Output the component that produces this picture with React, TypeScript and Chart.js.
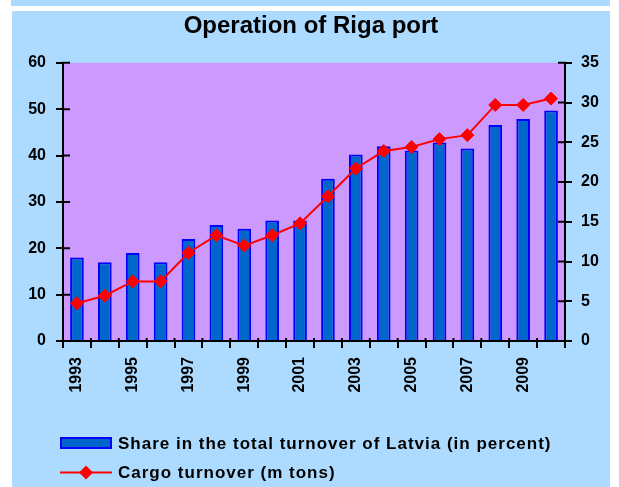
import React, { useEffect, useRef } from "react";
import { Chart, registerables } from "chart.js";

Chart.register(...registerables);

const titleText = "Operation of Riga port";
const years = ["1993", "1994", "1995", "1996", "1997", "1998", "1999", "2000", "2001", "2002", "2003", "2004", "2005", "2006", "2007", "2008", "2009", "2010"];
const shareLabel = "Share in the total turnover of Latvia (in percent)";
const shareOfLatvia = [18, 17, 19, 17, 22, 25, 24.2, 26, 26, 35, 40.2, 42, 41.1, 42.8, 41.5, 46.6, 47.9, 49.7];
const cargoLabel = "Cargo turnover (m tons)";
const cargoTurnover = [4.75, 5.7, 7.5, 7.5, 11.1, 13.3, 12.0, 13.3, 14.8, 18.2, 21.7, 23.9, 24.4, 25.4, 25.9, 29.7, 29.7, 30.5];
const leftAxis = { min: 0, max: 60, step: 10 };
const rightAxis = { min: 0, max: 35, step: 5 };

const PAGE_BG = "#ADDBFF";
const PLOT_BG = "#CC99FF";
const FONT = "Arial, 'Liberation Sans', sans-serif";

const plotBgPlugin = {
  id: "plotBg",
  beforeDraw(chart: any) {
    const { ctx, chartArea } = chart;
    ctx.save();
    ctx.fillStyle = PLOT_BG;
    ctx.fillRect(chartArea.left, chartArea.top, chartArea.right - chartArea.left, chartArea.bottom - chartArea.top);
    ctx.restore();
  },
};

const axesOverlayPlugin = {
  id: "axesOverlay",
  afterDatasetsDraw(chart: any) {
    const { ctx, chartArea } = chart;
    const { left, right, top, bottom } = chartArea;
    const y = chart.scales.y;
    const y1 = chart.scales.y1;
    ctx.save();
    ctx.strokeStyle = "#000";
    ctx.lineWidth = 2;
    ctx.beginPath();
    y.ticks.forEach((_: any, i: number) => {
      const py = y.getPixelForTick(i);
      ctx.moveTo(left, py);
      ctx.lineTo(left + 7, py);
    });
    y1.ticks.forEach((_: any, i: number) => {
      const py = y1.getPixelForTick(i);
      ctx.moveTo(right, py);
      ctx.lineTo(right - 7, py);
    });
    const n = years.length;
    const w = (right - left) / n;
    for (let i = 0; i <= n; i++) {
      const px = left + i * w;
      ctx.moveTo(px, bottom);
      ctx.lineTo(px, bottom - 3);
    }
    ctx.moveTo(left, top - 1);
    ctx.lineTo(left, bottom);
    ctx.lineTo(right, bottom);
    ctx.moveTo(right, top - 1);
    ctx.lineTo(right, bottom);
    ctx.stroke();
    ctx.restore();
  },
};

const legendPlugin = {
  id: "customLegend",
  afterDraw(chart: any) {
    const { ctx, chartArea } = chart;
    const ds = chart.data.datasets;
    const x0 = chartArea.left - 3;
    const row1 = chartArea.bottom + 102;
    const row2 = row1 + 29.5;
    const sw = 52;
    ctx.save();
    ctx.fillStyle = ds[0].backgroundColor;
    ctx.fillRect(x0, row1 - 6, sw, 12);
    ctx.strokeStyle = ds[0].borderColor;
    ctx.lineWidth = 2;
    ctx.strokeRect(x0 + 1, row1 - 5, sw - 2, 10);
    ctx.strokeStyle = ds[1].borderColor;
    ctx.lineWidth = 2;
    ctx.beginPath();
    ctx.moveTo(x0, row2);
    ctx.lineTo(x0 + sw, row2);
    ctx.stroke();
    const cx = x0 + sw / 2;
    const r = 7;
    ctx.fillStyle = ds[1].pointBackgroundColor;
    ctx.beginPath();
    ctx.moveTo(cx, row2 - r);
    ctx.lineTo(cx + r, row2);
    ctx.lineTo(cx, row2 + r);
    ctx.lineTo(cx - r, row2);
    ctx.closePath();
    ctx.fill();
    ctx.fillStyle = "#000";
    ctx.font = `bold 17px ${FONT}`;
    try {
      (ctx as any).letterSpacing = "1px";
    } catch (e) {}
    ctx.textBaseline = "middle";
    ctx.textAlign = "left";
    ctx.fillText(ds[0].label, x0 + sw + 6, row1 + 1);
    ctx.fillText(ds[1].label, x0 + sw + 6, row2 + 1);
    ctx.restore();
  },
};

export default function App() {
  const canvasRef = useRef<HTMLCanvasElement | null>(null);

  useEffect(() => {
    document.body.style.margin = "0";
    const canvas = canvasRef.current;
    if (!canvas) return;
    const tickFont = { family: FONT, size: 16, weight: "bold" as const };
    const chart = new Chart(canvas, {
      type: "bar",
      data: {
        labels: years,
        datasets: [
          {
            type: "bar",
            label: shareLabel,
            data: shareOfLatvia,
            backgroundColor: "#0066CC",
            borderColor: "#0000FF",
            borderWidth: 2,
            barPercentage: 0.49,
            categoryPercentage: 1,
            yAxisID: "y",
            order: 1,
          },
          {
            type: "line",
            label: cargoLabel,
            data: cargoTurnover,
            borderColor: "#FF0000",
            backgroundColor: "#FF0000",
            pointBackgroundColor: "#FF0000",
            pointBorderColor: "#FF0000",
            borderWidth: 2,
            pointStyle: "rectRot",
            pointRadius: 6.5,
            pointBorderWidth: 1,
            tension: 0,
            yAxisID: "y1",
            order: 0,
          } as any,
        ],
      },
      options: {
        responsive: false,
        animation: false,
        layout: { padding: { left: 0, right: 0, top: 0, bottom: 0 } },
        plugins: {
          legend: { display: false },
          tooltip: { enabled: false },
          title: {
            display: true,
            text: titleText,
            color: "#000",
            font: { family: FONT, size: 24, weight: "bold" },
            padding: { top: 1, bottom: 22 },
          },
        },
        scales: {
          x: {
            offset: true,
            grid: { display: true, drawOnChartArea: false, drawTicks: true, tickLength: 7, color: "#000", lineWidth: 2, offset: true },
            border: { display: true, color: "#000", width: 2 },
            ticks: {
              autoSkip: false,
              maxRotation: 90,
              minRotation: 90,
              padding: 9,
              color: "#000",
              font: tickFont,
              callback: (_v: any, i: number) => (i % 2 === 0 ? years[i] : ""),
            },
            afterFit: (s: any) => {
              s.height = 146;
            },
          },
          y: {
            position: "left",
            min: leftAxis.min,
            max: leftAxis.max,
            grid: { display: true, drawOnChartArea: false, drawTicks: true, tickLength: 7, color: "#000", lineWidth: 2 },
            border: { display: true, color: "#000", width: 2 },
            ticks: { stepSize: leftAxis.step, padding: 10, color: "#000", font: tickFont },
            afterFit: (s: any) => {
              s.width = 51;
            },
          },
          y1: {
            position: "right",
            min: rightAxis.min,
            max: rightAxis.max,
            grid: { display: true, drawOnChartArea: false, drawTicks: true, tickLength: 7, color: "#000", lineWidth: 2 },
            border: { display: true, color: "#000", width: 2 },
            ticks: { stepSize: rightAxis.step, padding: 9, color: "#000", font: tickFont },
            afterFit: (s: any) => {
              s.width = 45;
            },
          },
        },
      },
      plugins: [plotBgPlugin, axesOverlayPlugin, legendPlugin],
    });
    return () => chart.destroy();
  }, []);

  return (
    <div style={{ position: "relative", width: 619, height: 487, background: "#FFFFFF", overflow: "hidden" }}>
      <div style={{ position: "absolute", left: 11, top: 0, width: 599, height: 6, background: PAGE_BG }} />
      <div style={{ position: "absolute", left: 12, top: 11, width: 598, height: 476, background: PAGE_BG }}>
        <canvas ref={canvasRef} width={598} height={476} style={{ display: "block", width: 598, height: 476 }} />
      </div>
    </div>
  );
}
